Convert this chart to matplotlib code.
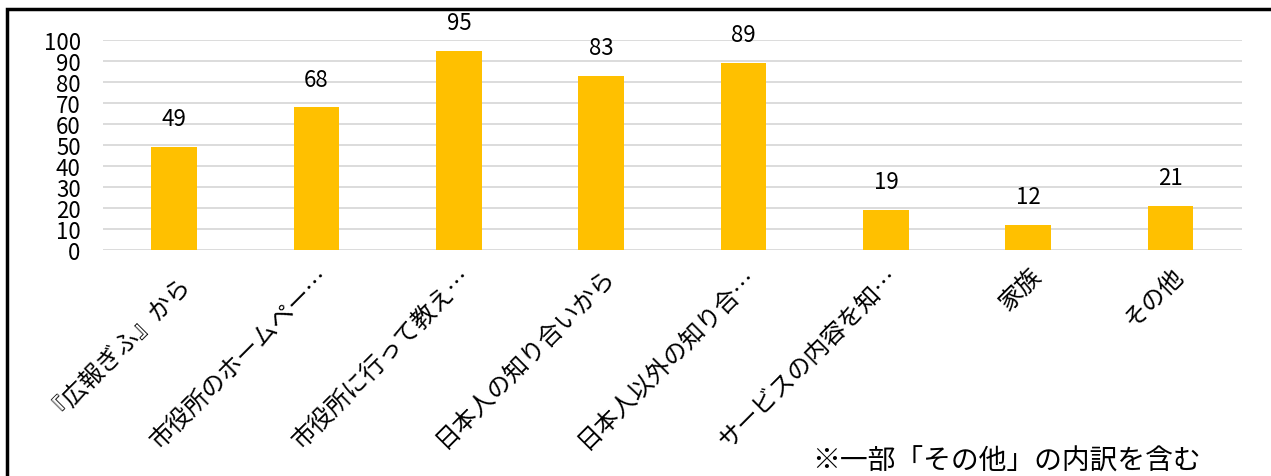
import matplotlib
matplotlib.use('Agg')
import matplotlib.pyplot as plt
from matplotlib.patches import Rectangle

plt.rcParams['font.family'] = ['Noto Sans CJK JP', 'DejaVu Sans']

categories = ['『広報ぎふ』から', '市役所のホームペー…', '市役所に行って教え…', '日本人の知り合いから',
              '日本人以外の知り合…', 'サービスの内容を知…', '家族', 'その他']
counts = [49, 68, 95, 83, 89, 19, 12, 21]
yticks = list(range(0, 101, 10))
note = '※一部「その他」の内訳を含む'

fig = plt.figure(figsize=(12.71, 4.77), dpi=100)
ax = fig.add_axes([0.081, 0.474, 0.896, 0.440])

x = range(len(categories))
bars = ax.bar(x, counts, width=0.32, color='#FFC000', zorder=3)
for b, v in zip(bars, counts):
    ax.annotate(str(v), (b.get_x() + b.get_width() / 2, v), xytext=(0, 12),
                textcoords='offset points', ha='center', va='bottom', fontsize=16)

ax.set_xlim(-0.5, len(categories) - 0.5)
ax.set_ylim(0, 100)
ax.set_yticks(yticks)
ax.yaxis.grid(True, color='#D9D9D9', linewidth=1.3, zorder=0)
ax.tick_params(axis='y', length=0, pad=16, labelsize=16)
ax.tick_params(axis='x', length=0, pad=9, labelsize=17.5)
ax.set_xticks(list(x))
ax.set_xticklabels(categories, rotation=45, ha='right', va='top', rotation_mode='anchor')
for s in ax.spines.values():
    s.set_visible(False)

# outer frame (bottom and right edges fall outside the picture)
fig.patches.append(Rectangle((7 / 1271, -0.1), 1.1, 1.1 - 10 / 477, transform=fig.transFigure,
                             fill=False, edgecolor='black', linewidth=2.5))

fig.text(812 / 1271, 15 / 477, note, fontsize=20, ha='left', va='center')

fig.savefig('out.png', dpi=100)
